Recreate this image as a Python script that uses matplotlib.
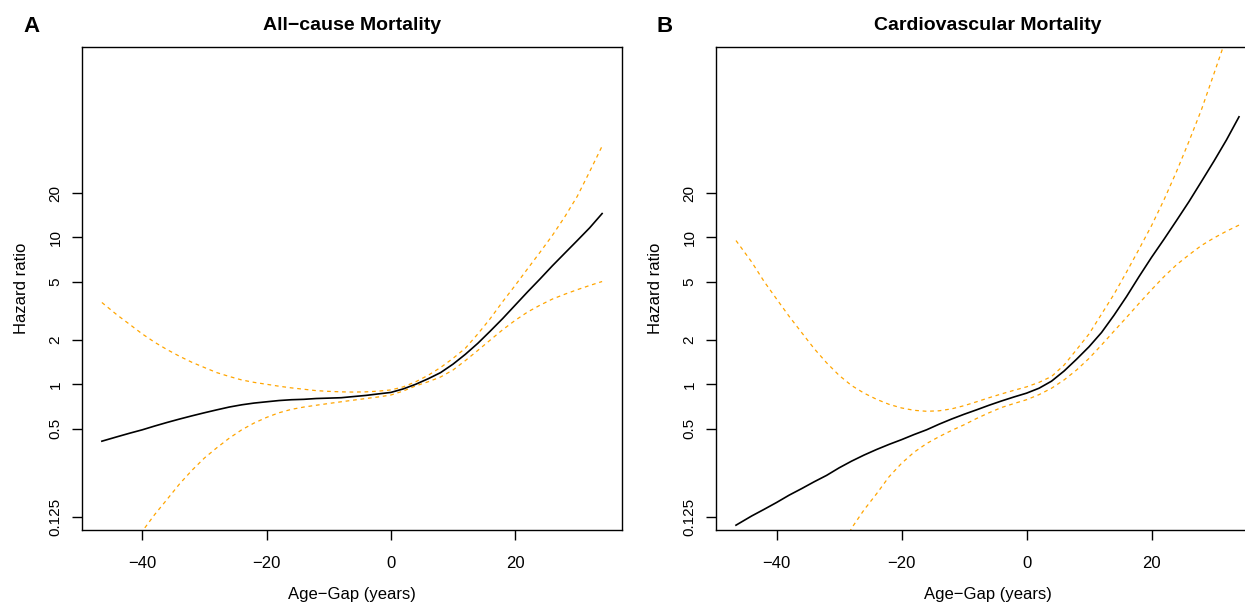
import matplotlib
matplotlib.use("Agg")
import matplotlib.pyplot as plt

plt.rcParams["font.family"] = ["Liberation Sans", "DejaVu Sans"]

# age-gap grid the curves were read at
age_gap = [-46.5, -44, -42, -40, -38, -36, -34, -32, -30, -28, -26, -24, -22, -20,
           -18, -16, -14, -12, -10, -8, -6, -4, -2, 0, 2, 4, 6, 8, 10, 12, 14,
           16, 18, 20, 22, 24, 26, 28, 30, 32, 34]

# A: all-cause mortality
all_hr = [0.41, 0.44, 0.465, 0.49, 0.52, 0.55, 0.58, 0.61, 0.64, 0.67, 0.70, 0.725,
          0.745, 0.76, 0.775, 0.785, 0.79, 0.80, 0.805, 0.81, 0.825, 0.84, 0.86,
          0.88, 0.93, 1.0, 1.09, 1.2, 1.37, 1.6, 1.9, 2.3, 2.8, 3.45, 4.25, 5.2,
          6.4, 7.8, 9.5, 11.6, 14.5]
all_upper = [3.6, 2.95, 2.55, 2.2, 1.93, 1.72, 1.55, 1.41, 1.3, 1.2, 1.13, 1.07,
             1.03, 1.0, 0.97, 0.945, 0.925, 0.905, 0.895, 0.888, 0.885, 0.888, 0.898,
             0.915, 0.96, 1.04, 1.15, 1.3, 1.5, 1.76, 2.2, 2.8, 3.65, 4.7, 6.1, 7.9,
             10.3, 13.8, 19.0, 28.0, 41.7]
all_lower = [0.035, 0.052, 0.072, 0.10, 0.13, 0.165, 0.21, 0.26, 0.315, 0.37, 0.43,
             0.49, 0.545, 0.595, 0.64, 0.675, 0.70, 0.72, 0.74, 0.76, 0.78, 0.80,
             0.82, 0.845, 0.9, 0.975, 1.04, 1.12, 1.25, 1.45, 1.7, 2.0, 2.35, 2.72,
             3.1, 3.45, 3.8, 4.1, 4.4, 4.7, 5.0]

# B: cardiovascular mortality
cv_hr = [0.11, 0.127, 0.141, 0.157, 0.176, 0.195, 0.217, 0.24, 0.27, 0.30, 0.33,
         0.36, 0.39, 0.42, 0.455, 0.49, 0.535, 0.58, 0.625, 0.67, 0.72, 0.77, 0.82,
         0.87, 0.94, 1.05, 1.23, 1.48, 1.8, 2.25, 2.95, 3.95, 5.4, 7.3, 9.7, 13.0,
         17.5, 24.0, 33.0, 46.0, 66.0]
cv_upper = [9.5, 6.8, 5.0, 3.8, 2.9, 2.25, 1.75, 1.4, 1.15, 0.98, 0.87, 0.79, 0.73,
            0.69, 0.665, 0.655, 0.66, 0.68, 0.715, 0.76, 0.81, 0.86, 0.91, 0.96,
            1.03, 1.13, 1.35, 1.72, 2.2, 3.0, 4.1, 5.8, 8.3, 12.0, 18.0, 28.0, 45.0,
            74.0, 130.0, 230.0, 400.0]
cv_lower = [0.004, 0.006, 0.009, 0.013, 0.018, 0.025, 0.035, 0.05, 0.07, 0.105,
            0.14, 0.18, 0.235, 0.29, 0.345, 0.395, 0.44, 0.485, 0.53, 0.585, 0.64,
            0.695, 0.74, 0.785, 0.85, 0.94, 1.07, 1.25, 1.5, 1.85, 2.3, 2.85, 3.55,
            4.4, 5.4, 6.5, 7.6, 8.8, 9.9, 11.0, 12.1]

yticks = [0.125, 0.5, 1, 2, 5, 10, 20]
ytick_labels = ["0.125", "0.5", "1", "2", "5", "10", "20"]
xticks = [-40, -20, 0, 20]

W, H = 1245, 604
fig = plt.figure(figsize=(W / 100, H / 100), dpi=100)

panels = [
    ("A", "All\u2212cause Mortality", all_hr, all_upper, all_lower, 82, 540),
    ("B", "Cardiovascular Mortality", cv_hr, cv_upper, cv_lower, 716, 543),
]

for letter, title, hr, upper, lower, left_px, width_px in panels:
    ax = fig.add_axes([left_px / W, (H - 530) / H, width_px / W, 483 / H])
    ax.plot(age_gap, upper, color="orange", lw=0.9, linestyle=(0, (3, 3)))
    ax.plot(age_gap, lower, color="orange", lw=0.9, linestyle=(0, (3, 3)))
    ax.plot(age_gap, hr, color="black", lw=1.2)

    ax.set_yscale("log")
    ax.set_xlim(-49.7, 37.2)
    ax.set_ylim(0.102, 197)
    ax.set_xticks(xticks)
    ax.set_yticks(yticks)
    ax.set_yticklabels(ytick_labels, rotation=90, va="center")
    ax.minorticks_off()
    ax.tick_params(length=7, width=1)
    ax.tick_params(axis="x", pad=12, labelsize=12)
    ax.tick_params(axis="y", pad=7, labelsize=11)
    for s in ax.spines.values():
        s.set_linewidth(1.0)

    ax.set_xlabel("Age\u2212Gap (years)", fontsize=12, labelpad=11)
    ax.set_ylabel("Hazard ratio", fontsize=12, labelpad=14)
    ax.set_title(title, fontsize=14, fontweight="bold", pad=12)
    fig.text((left_px - 51) / W, 1 - 27 / H, letter, fontsize=16,
             fontweight="bold", ha="center", va="center")

fig.savefig("out.png", dpi=100)
